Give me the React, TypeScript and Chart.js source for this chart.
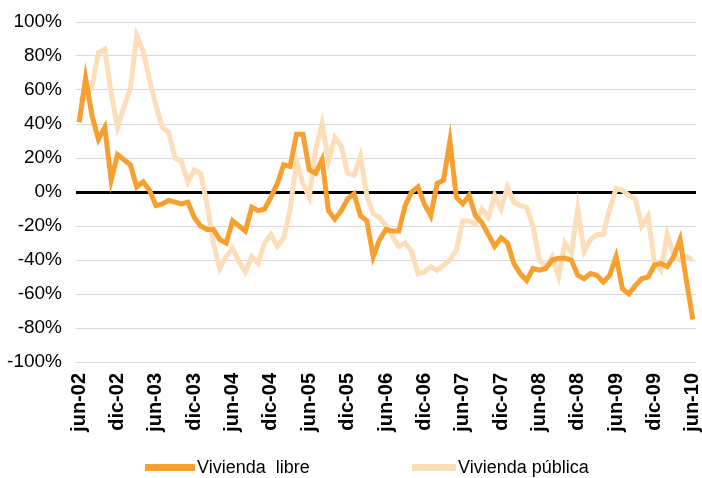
import React, { useEffect, useRef } from "react";
import { Chart, registerables } from "chart.js";

Chart.register(...registerables);

const monthNames = ["ene", "feb", "mar", "abr", "may", "jun", "jul", "ago", "sep", "oct", "nov", "dic"];

// Monthly categories jun-02 .. jun-10
const categories: string[] = [];
for (let i = 0; i < 97; i++) {
  const m = (5 + i) % 12;
  const y = 2 + Math.floor((5 + i) / 12);
  categories.push(monthNames[m] + "-" + String(y).padStart(2, "0"));
}

const viviendaLibre = [
  41, 67, 45, 31, 38, 7, 22, 19, 16, 3, 6, 1,
  -8, -7, -5, -6, -7, -6, -15, -20, -22, -22, -28, -30,
  -17, -20, -23, -9, -11, -10, -3, 5, 16, 15, 34, 34,
  13, 11, 19, -11, -16, -11, -4, -1, -14, -17, -38, -28,
  -22, -23, -23, -8, 0, 3, -7, -14, 5, 7, 30, -3,
  -7, -2, -14, -18, -25, -32, -27, -30, -42, -48, -52, -45,
  -46, -45, -40, -39, -39, -40, -49, -51, -48, -49, -53, -49,
  -38, -57, -60, -55, -51, -50, -43, -42, -44, -38, -28, -52,
  -75,
];

const viviendaPublica = [
  54, 55, 62, 82, 84, 58, 38, 50, 61, 92, 83, 66,
  51, 38, 35, 20, 18, 6, 13, 11, -7, -30, -45, -38,
  -33, -41, -47, -38, -42, -30, -25, -32, -27, -10, 18, 5,
  -3, 25, 40, 18, 32, 27, 11, 10, 21, -2, -13, -15,
  -20, -26, -32, -30, -35, -48, -47, -44, -46, -43, -40, -34,
  -17, -17, -19, -10, -15, -2, -10, 3, -6, -8, -9, -20,
  -40, -44, -38, -50, -30, -36, -10, -35, -28, -25, -25, -10,
  2, 1, -2, -4, -20, -14, -42, -46, -25, -37, -40, -38,
  -40,
];

const seriesNames = ["Vivienda  libre", "Vivienda pública"];
const colorLibre = "#F7A030";
const colorPublica = "#FDDEB9";
const FONT = "'Liberation Sans', Arial, sans-serif";

export default function App() {
  const ref = useRef<HTMLCanvasElement | null>(null);

  useEffect(() => {
    if (!ref.current) return;
    const chart = new Chart(ref.current, {
      type: "line",
      data: {
        labels: categories,
        datasets: [
          {
            label: seriesNames[0],
            data: viviendaLibre,
            borderColor: colorLibre,
            backgroundColor: colorLibre,
            borderWidth: 5,
            pointRadius: 0,
            tension: 0,
            order: 1,
          },
          {
            label: seriesNames[1],
            data: viviendaPublica,
            borderColor: colorPublica,
            backgroundColor: colorPublica,
            borderWidth: 5,
            pointRadius: 0,
            tension: 0,
            order: 2,
          },
        ],
      },
      options: {
        responsive: false,
        animation: false,
        devicePixelRatio: 1,
        layout: { padding: { top: 22, right: 6, left: 0, bottom: 0 } },
        plugins: { legend: { display: false }, tooltip: { enabled: false } },
        scales: {
          x: {
            type: "category",
            offset: true,
            grid: { display: false },
            border: { display: false },
            afterFit: (scale: any) => {
              scale.height = 116;
              scale.paddingLeft = 0;
              scale.paddingRight = 0;
            },
            ticks: {
              autoSkip: false,
              minRotation: 90,
              maxRotation: 90,
              padding: 3,
              color: "#000",
              font: { family: FONT, size: 20, weight: "bold" },
              callback: (_v: any, i: number) => (i % 6 === 0 ? categories[i] : ""),
            },
          },
          y: {
            min: -100,
            max: 100,
            border: { display: false },
            afterFit: (scale: any) => {
              scale.width = 76;
              scale.paddingTop = 0;
              scale.paddingBottom = 0;
            },
            grid: {
              drawTicks: false,
              color: (ctx: any) => (ctx.tick && ctx.tick.value === 0 ? "#000000" : "#d9d9d9"),
              lineWidth: (ctx: any) => (ctx.tick && ctx.tick.value === 0 ? 3 : 1),
            },
            ticks: {
              stepSize: 20,
              padding: 14,
              color: "#000",
              font: { family: FONT, size: 19 },
              callback: (v: any) => v + "%",
            },
          },
        },
      },
    });
    return () => chart.destroy();
  }, []);

  const legendText: React.CSSProperties = {
    position: "absolute",
    top: 457,
    height: 20,
    lineHeight: "20px",
    fontFamily: FONT,
    fontSize: 18,
    color: "#000",
    whiteSpace: "pre",
  };

  return (
    <div style={{ position: "fixed", left: 0, top: 0, width: 702, height: 478, background: "#fff", overflow: "hidden" }}>
      <canvas ref={ref} width={702} height={478} style={{ position: "absolute", left: 0, top: 0 }} />
      <div style={{ position: "absolute", left: 145, top: 464, width: 50, height: 7, background: colorLibre }} />
      <div style={{ ...legendText, left: 197 }}>{seriesNames[0]}</div>
      <div style={{ position: "absolute", left: 412, top: 464, width: 44, height: 7, background: colorPublica }} />
      <div style={{ ...legendText, left: 458 }}>{seriesNames[1]}</div>
    </div>
  );
}
